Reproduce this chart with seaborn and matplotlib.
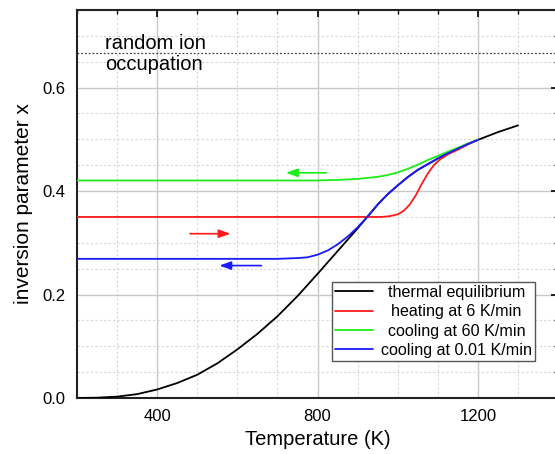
import matplotlib
matplotlib.use("Agg")
import matplotlib.pyplot as plt
import seaborn as sns
import pandas as pd
from matplotlib.ticker import MultipleLocator

# ---- data ----
T_eq = [200, 250, 300, 350, 400, 450, 500, 550, 600, 650, 700, 750, 800, 850, 900,
        925, 950, 975, 1000, 1025, 1050, 1075, 1100, 1125, 1150, 1175, 1200, 1250, 1300]
x_eq = [0.000, 0.0006, 0.0027, 0.0075, 0.0165, 0.029, 0.045, 0.067, 0.094, 0.124, 0.158,
        0.197, 0.240, 0.284, 0.328, 0.351, 0.374, 0.394, 0.411, 0.427, 0.441, 0.452,
        0.463, 0.473, 0.482, 0.491, 0.499, 0.514, 0.527]

T_heat = [200, 960, 980, 1000, 1015, 1030, 1045, 1060, 1075, 1090, 1105, 1125, 1150,
          1175, 1200]
x_heat = [0.350, 0.350, 0.3515, 0.355, 0.362, 0.374, 0.392, 0.414, 0.434, 0.450, 0.461,
          0.471, 0.480, 0.490, 0.499]

T_c60 = [200, 800, 850, 900, 950, 975, 1000, 1025, 1050, 1075, 1100, 1125, 1150, 1175,
         1200]
x_c60 = [0.4205, 0.4205, 0.4215, 0.4235, 0.4275, 0.431, 0.436, 0.443, 0.451, 0.460,
         0.468, 0.476, 0.484, 0.492, 0.499]

T_c001 = [200, 700, 750, 775, 800, 825, 850, 875, 900, 925, 950, 975, 1000, 1025, 1050,
          1075, 1100, 1125, 1150, 1175, 1200]
x_c001 = [0.269, 0.269, 0.2705, 0.272, 0.277, 0.285, 0.297, 0.312, 0.330, 0.351, 0.374,
          0.394, 0.411, 0.427, 0.441, 0.452, 0.463, 0.473, 0.482, 0.491, 0.499]

labels = ["thermal equilibrium", "heating at 6 K/min", "cooling at 60 K/min",
          "cooling at 0.01 K/min"]
colors = ["black", "#ff1a1a", "#1aee1a", "#1a1aff"]

random_level = 2 / 3
# arrows: (T_start, T_end, x)
arrows = [(822, 721, 0.4353), (482, 583, 0.3176), (660, 555, 0.256)]
arrow_colors = ["#1aee1a", "#ff1a1a", "#1a1aff"]

sns.set_style("white")
plt.rcParams["font.family"] = ["Liberation Sans", "DejaVu Sans"]
plt.rcParams["text.color"] = "black"
plt.rcParams["axes.labelcolor"] = "black"

fig = plt.figure(figsize=(5.55, 4.54), dpi=100)
ax = fig.add_axes([0.1387, 0.1233, 0.867, 0.8547])

# grid
ax.xaxis.set_major_locator(MultipleLocator(400))
ax.xaxis.set_minor_locator(MultipleLocator(100))
ax.yaxis.set_major_locator(MultipleLocator(0.2))
ax.yaxis.set_minor_locator(MultipleLocator(0.05))
ax.grid(True, which="major", color="#c8c8c8", lw=1.0, ls="-", zorder=0)
ax.grid(True, which="minor", color="#d6d6d6", lw=0.8, ls=(0, (2, 2)), zorder=0)
ax.set_axisbelow(True)

series = [(T_eq, x_eq), (T_heat, x_heat), (T_c60, x_c60), (T_c001, x_c001)]
for i, (T, x) in enumerate(series):
    df = pd.DataFrame({"T": T, "x": x})
    sns.lineplot(data=df, x="T", y="x", ax=ax, color=colors[i], lw=1.3,
                 estimator=None, sort=False, label=labels[i], zorder=3 + i,
                 solid_joinstyle="round", solid_capstyle="round")

ax.axhline(random_level, color="#444444", lw=0.9, ls=(0, (1.5, 1.5)), zorder=2)
ax.text(270, 0.6644, "random ion\noccupation", fontsize=14.5, va="center", ha="left",
        linespacing=1.15, color="black")

for (t0, t1, yv), c in zip(arrows, arrow_colors):
    ax.annotate("", xy=(t1, yv), xytext=(t0, yv),
                arrowprops=dict(arrowstyle="-|>,head_length=0.7,head_width=0.25",
                                color=c, lw=1.2, shrinkA=0, shrinkB=0))

ax.set_xlim(200, 1400)
ax.set_ylim(0, 0.75)
ax.set_xlabel("Temperature (K)", fontsize=14.5, labelpad=4)
ax.set_ylabel("inversion parameter x", fontsize=15, labelpad=7)

ax.tick_params(which="both", direction="in", top=True, right=True, colors="black",
               labelsize=12)
ax.tick_params(which="major", length=5, width=1.2, pad=8)
ax.tick_params(which="minor", length=3, width=1.0)
ax.set_yticks([0.0, 0.2, 0.4, 0.6])
ax.set_yticklabels(["0.0", "0.2", "0.4", "0.6"])
for s in ax.spines.values():
    s.set_visible(True)
    s.set_color("#222222")
    s.set_linewidth(1.5)

leg = ax.legend(loc="lower left", bbox_to_anchor=(0.530, 0.095), fontsize=11.6,
                frameon=True, fancybox=False, edgecolor="#555555", framealpha=1,
                handlelength=2.35, labelspacing=0.27, borderpad=0.2, handletextpad=0.5,
                borderaxespad=0)
leg.get_frame().set_linewidth(1.0)
for t in leg.get_texts():
    t.set_color("black")

# centre the legend labels within the label column
fig.canvas.draw()
renderer = fig.canvas.get_renderer()
texts = leg.get_texts()
widths = [t.get_window_extent(renderer).width for t in texts]
wmax = max(widths)
for t, w in zip(texts, widths):
    t.set_position(((wmax - w) / 2, 0))

fig.savefig("out.png", dpi=100)
